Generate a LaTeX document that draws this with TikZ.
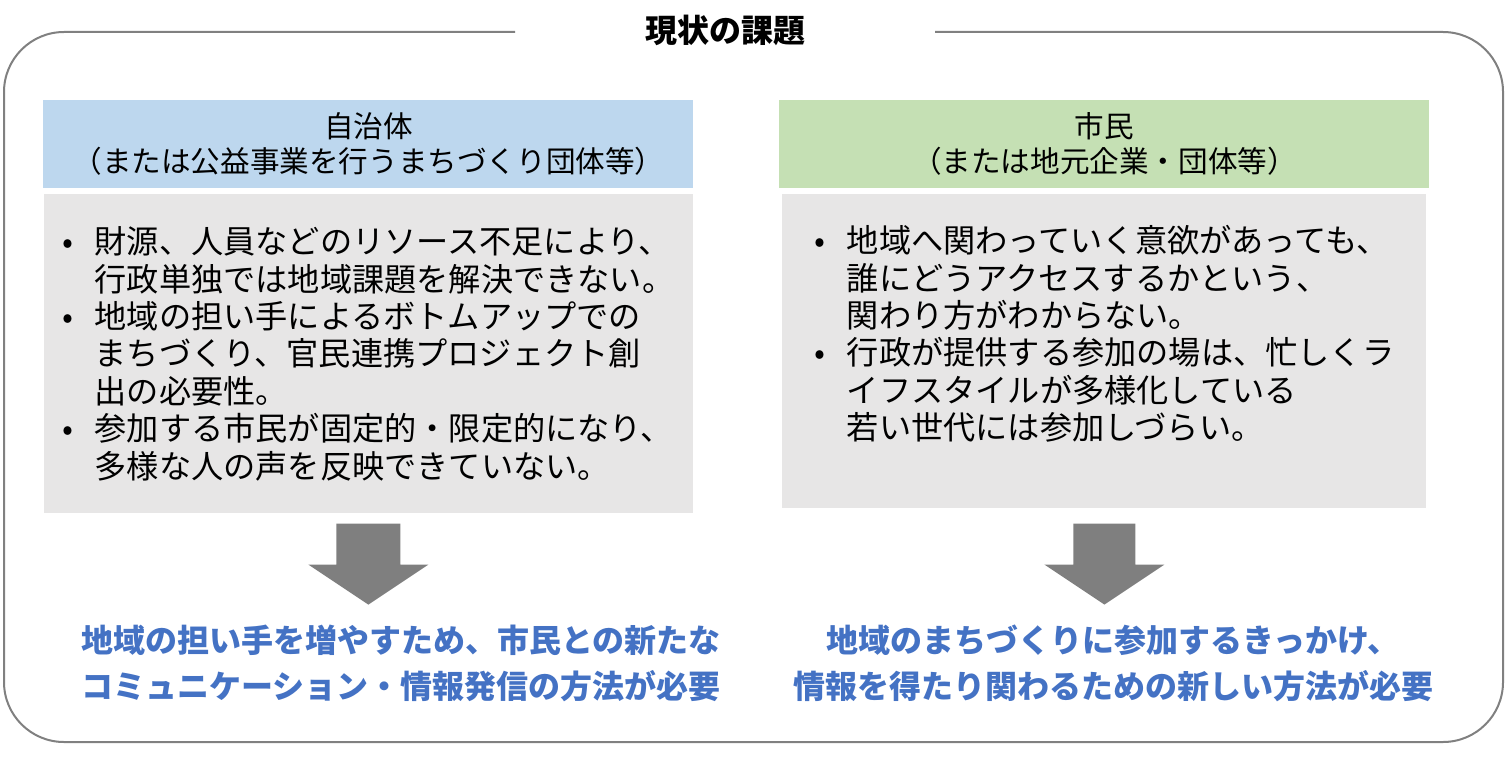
\documentclass[tikz,border=0pt]{standalone}
\usepackage{fontspec}
\setmainfont{Noto Sans CJK JP}
\usetikzlibrary{positioning,calc}
\definecolor{kadaiframe}{HTML}{808080}
\definecolor{kadaisky}{HTML}{BDD7EE}
\definecolor{kadaileaf}{HTML}{C5E0B4}
\definecolor{kadaistone}{HTML}{E7E6E6}
\definecolor{kadaiarrow}{HTML}{7F7F7F}
\definecolor{kadaiblue}{HTML}{4472C4}
\newcommand{\bul}{\makebox[1em][l]{•}}
\newcommand{\ind}{\hspace*{1em}}

\begin{document}
\begin{tikzpicture}[x=0.5pt,y=-0.5pt,
  frame/.style={draw=kadaiframe,line width=1pt,rounded corners=30pt},
  head/.style={anchor=north west,minimum width=325pt,minimum height=44pt,
               inner sep=0pt,align=center,
               font=\fontsize{14.8pt}{17.5pt}\selectfont},
  body/.style={fill=kadaistone,minimum height=159.5pt,inner sep=0pt,align=left,
               font=\fontsize{16.1pt}{18.7pt}\selectfont},
  bigarr/.style={fill=kadaiarrow},
  need/.style={align=center,text=kadaiblue,
               font=\fontsize{16pt}{23pt}\selectfont\bfseries}]
  \useasboundingbox (0,0) rectangle (1507,770);
  \node[font=\fontsize{16pt}{18pt}\selectfont\bfseries] (title) at (725,30) {現状の課題};
  \draw[frame] (935,32) -- (1503,32) -- (1503,742) -- (4,742) -- (4,32) -- (515,32);
  % left column
  \node[head,fill=kadaisky] (lhead) at (43,100) {自治体\\（または公益事業を行うまちづくり団体等）};
  \node[body,minimum width=324.5pt,below=2.5pt of lhead] (lbody)
    {\bul 財源、人員などのリソース不足により、\\
     \ind 行政単独では地域課題を解決できない。\\
     \bul 地域の担い手によるボトムアップでの\\
     \ind まちづくり、官民連携プロジェクト創\\
     \ind 出の必要性。\\
     \bul 参加する市民が固定的・限定的になり、\\
     \ind 多様な人の声を反映できていない。};
  % right column
  \node[head,fill=kadaileaf] (rhead) at (779,100) {市民\\（または地元企業・団体等）};
  \node[body,minimum width=322pt,minimum height=157pt,below=2.5pt of rhead] (rbody)
    {\bul 地域へ関わっていく意欲があっても、\\
     \ind 誰にどうアクセスするかという、\\
     \ind 関わり方がわからない。\\
     \bul 行政が提供する参加の場は、忙しくラ\\
     \ind イフスタイルが多様化している\\
     \ind 若い世代には参加しづらい。\\
     \mbox{}};
  % arrows
  \fill[bigarr] ($(lbody.south)+(-32,10)$) -- ++(64,0) -- ++(0,41) -- ++(28,0)
    -- ++(-60,40) -- ++(-60,-40) -- ++(28,0) -- cycle;
  \fill[bigarr] ($(rbody.south)+(-31,15)$) -- ++(62,0) -- ++(0,41) -- ++(29,0)
    -- ++(-60,40) -- ++(-60,-40) -- ++(29,0) -- cycle;
  \node[need] (lneed) at (401,663) {地域の担い手を増やすため、市民との新たな\\コミュニケーション・情報発信の方法が必要};
  \node[need] (rneed) at (1113,663) {地域のまちづくりに参加するきっかけ、\\情報を得たり関わるための新しい方法が必要};
\end{tikzpicture}
\end{document}
